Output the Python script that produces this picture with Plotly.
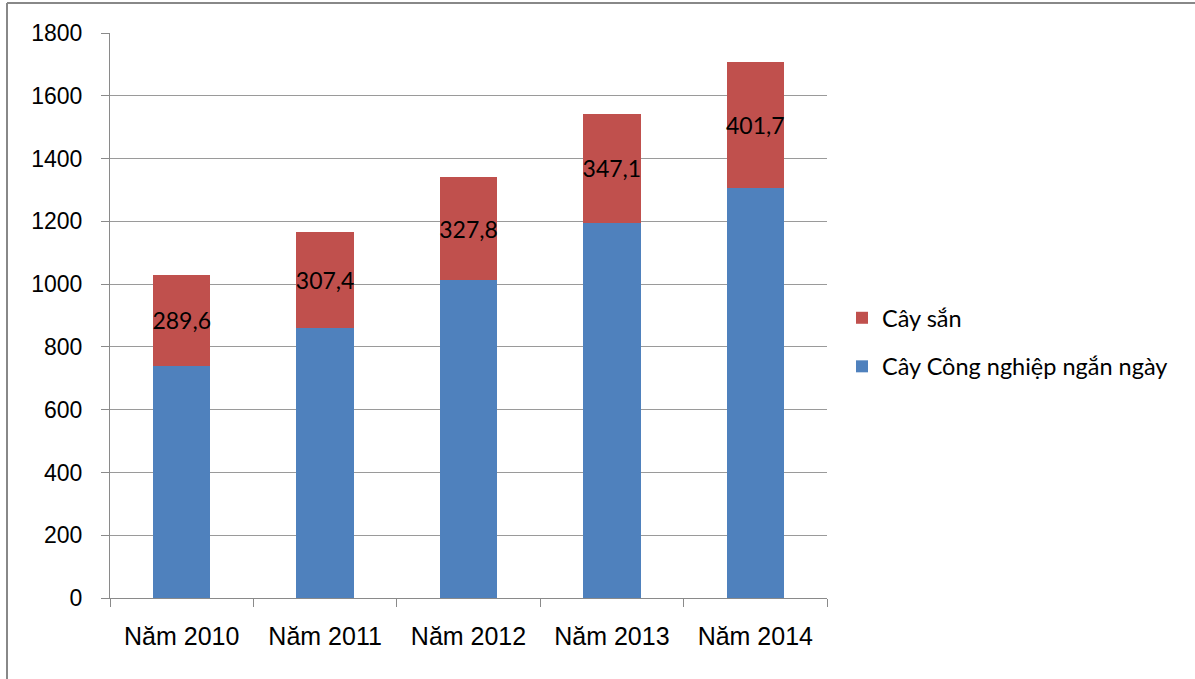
import plotly.graph_objects as go

years = ["Năm 2010", "Năm 2011", "Năm 2012", "Năm 2013", "Năm 2014"]
cong_nghiep = [740, 859, 1013, 1195, 1306]
cay_san = [289.6, 307.4, 327.8, 347.1, 401.7]
y_ticks = [0, 200, 400, 600, 800, 1000, 1200, 1400, 1600, 1800]

W, H = 1195, 679
L, R, T, B = 110, 827, 33, 598

fig = go.Figure()
fig.add_trace(go.Bar(
    x=years, y=cong_nghiep, name="Cây Công nghiệp ngắn ngày",
    marker=dict(color="#4F81BD", line=dict(width=0)),
    legendgroup="a", legendrank=2,
))
fig.add_trace(go.Bar(
    x=years, y=cay_san, name="Cây sắn",
    marker=dict(color="#C0504D", line=dict(width=0)),
    text=[f"{v:.1f}".replace(".", ",") for v in cay_san],
    textposition="inside", insidetextanchor="middle", textangle=0,
    constraintext="none",
    textfont=dict(family="Lato, Carlito, sans-serif", size=23, color="#000000"),
    legendgroup="b", legendrank=1,
))

pw = R - L
ph = B - T
def px_x(p):
    return (p - L) / pw
def px_y(p):
    return (B - p) / ph

fig.update_layout(
    barmode="stack",
    bargap=0.6,
    width=W, height=H,
    margin=dict(l=L, r=W - R, t=T, b=H - B, autoexpand=False),
    paper_bgcolor="white", plot_bgcolor="white",
    showlegend=True,
    legend=dict(
        x=px_x(842), y=px_y(296), xanchor="left", yanchor="top",
        traceorder="grouped", tracegroupgap=15,
        font=dict(family="Lato, Carlito, sans-serif", size=23.5, color="#000000"),
        itemwidth=30, bgcolor="rgba(0,0,0,0)",
    ),
    xaxis=dict(
        type="category", tickson="boundaries", ticks="outside", ticklen=8,
        tickcolor="#8a8a8a", showline=True, linecolor="#8a8a8a", linewidth=1,
        showgrid=False,
        tickfont=dict(family="Liberation Sans, Arial, sans-serif", size=25, color="#000000"),
        ticklabelstandoff=16,
    ),
    yaxis=dict(
        range=[0, 1800], tickvals=y_ticks, ticks="outside", ticklen=8,
        tickcolor="#8a8a8a", showline=True, linecolor="#8a8a8a", linewidth=1,
        showgrid=True, gridcolor="#9a9a9a", gridwidth=1, zeroline=False,
        tickfont=dict(family="Liberation Sans, Arial, sans-serif", size=23, color="#000000"),
        ticklabelstandoff=14,
    ),
    shapes=[
        dict(type="line", xref="paper", yref="paper",
             x0=px_x(7), x1=px_x(1300), y0=px_y(3), y1=px_y(3),
             line=dict(color="#888888", width=2)),
        dict(type="line", xref="paper", yref="paper",
             x0=px_x(7), x1=px_x(7), y0=px_y(3), y1=px_y(800),
             line=dict(color="#888888", width=2)),
    ],
)

fig.write_html("out.html")
